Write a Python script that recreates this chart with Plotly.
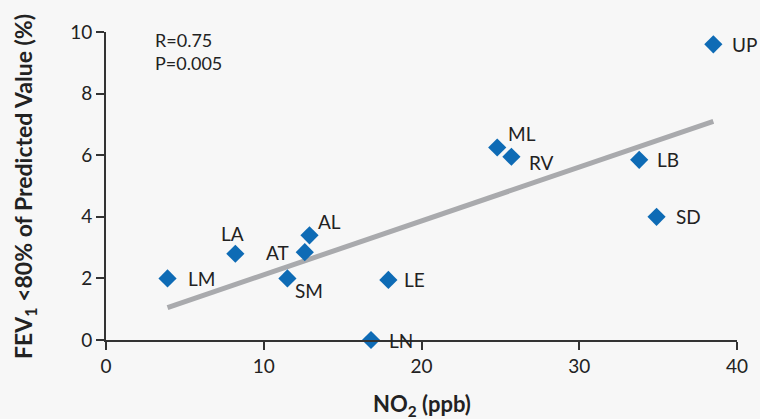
import plotly.graph_objects as go

# Site codes with annual mean NO2 (ppb) and share of children with FEV1 < 80% predicted (%)
sites = ["LM", "LA", "AT", "AL", "SM", "LE", "LN", "ML", "RV", "LB", "SD", "UP"]
no2_ppb = [3.9, 8.2, 12.6, 12.9, 11.5, 17.9, 16.8, 24.8, 25.7, 33.8, 34.9, 38.5]
fev1_low_pct = [2.0, 2.8, 2.85, 3.4, 2.0, 1.95, 0.0, 6.25, 5.95, 5.85, 4.0, 9.6]

# Fitted regression line end points
trend_x = [3.9, 38.5]
trend_y = [1.05, 7.1]

x_ticks = [0, 10, 20, 30, 40]
y_ticks = [0, 2, 4, 6, 8, 10]

# label placement per site: (x shift px, y shift px, anchor)
label_pos = {
    "LM": (18, 0, "left"), "LA": (-3, 20, "center"), "AT": (-14, 0, "right"),
    "AL": (6, 14, "left"), "SM": (6, -12, "left"), "LE": (14, 0, "left"),
    "LN": (16, 0, "left"), "ML": (9, 14, "left"), "RV": (16, -6, "left"),
    "LB": (16, 0, "left"), "SD": (17, 0, "left"), "UP": (17, 0, "left"),
}

FONT = "Lato"
TXT = "#222222"
AX = "#333333"

fig = go.Figure()
fig.add_trace(go.Scatter(
    x=trend_x, y=trend_y, mode="lines",
    line=dict(color="#a9aaad", width=5), hoverinfo="skip", cliponaxis=False,
))
fig.add_trace(go.Scatter(
    x=no2_ppb, y=fev1_low_pct, mode="markers",
    marker=dict(symbol="diamond", size=14, color="#0e6bb5"),
    cliponaxis=False,
))

for name, xv, yv in zip(sites, no2_ppb, fev1_low_pct):
    dx, dy, anc = label_pos[name]
    fig.add_annotation(
        x=xv, y=yv, text=name, showarrow=False, xanchor=anc, yanchor="middle",
        xshift=dx, yshift=dy, font=dict(family=FONT, size=19, color=TXT),
    )

fig.add_annotation(
    x=0.075, y=1.015, xref="paper", yref="paper", xanchor="left", yanchor="top",
    text="R=0.75<br>P=0.005", showarrow=False, align="left",
    font=dict(family=FONT, size=18, color=TXT),
)

# axis titles
fig.add_annotation(
    x=0.5, y=-0.211, xref="paper", yref="paper", xanchor="center", yanchor="middle",
    text="<b>NO<sub>2</sub> (ppb)</b>", showarrow=False,
    font=dict(family=FONT, size=22, color=TXT),
)
fig.add_annotation(
    x=-0.130, y=0.5, xref="paper", yref="paper", xanchor="center", yanchor="middle",
    text="<b>FEV<sub>1</sub> &lt;80% of Predicted Value (%)</b>", showarrow=False,
    textangle=-90, font=dict(family=FONT, size=23, color=TXT),
)

fig.update_layout(
    width=760, height=419,
    margin=dict(l=105.5, r=21, t=32, b=79),
    paper_bgcolor="#f7f7f7", plot_bgcolor="#f7f7f7",
    showlegend=False,
    font=dict(family=FONT, size=19, color=TXT),
)
fig.update_xaxes(
    range=[0, 40], tickvals=x_ticks, showgrid=False, zeroline=False,
    showline=True, linecolor=AX, linewidth=2,
    ticks="outside", ticklen=8, tickwidth=2, tickcolor=AX,
    tickfont=dict(family=FONT, size=19, color=TXT),
)
fig.update_yaxes(
    range=[0, 10], tickvals=y_ticks, showgrid=False, zeroline=False,
    showline=True, linecolor=AX, linewidth=2,
    ticks="outside", ticklen=8, tickwidth=2, tickcolor=AX,
    tickfont=dict(family=FONT, size=19, color=TXT),
)

fig.write_html("out.html")
